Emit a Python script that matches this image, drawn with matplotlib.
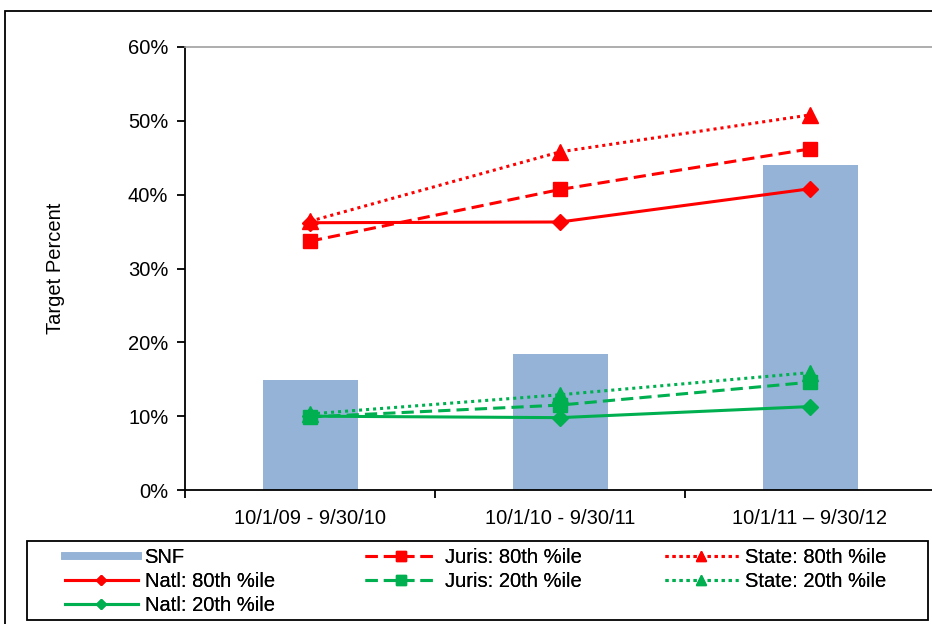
import matplotlib
matplotlib.use("Agg")
import matplotlib.pyplot as plt
from matplotlib.patches import Rectangle
from matplotlib.lines import Line2D
from matplotlib.ticker import PercentFormatter

plt.rcParams['font.family'] = ['Liberation Sans', 'DejaVu Sans']

periods = ["10/1/09 - 9/30/10", "10/1/10 - 9/30/11", "10/1/11 \u2013 9/30/12"]
snf = [14.9, 18.4, 44.0]
natl_80 = [36.2, 36.3, 40.8]
juris_80 = [33.7, 40.7, 46.2]
state_80 = [36.4, 45.8, 50.8]
natl_20 = [10.0, 9.8, 11.3]
juris_20 = [9.9, 11.5, 14.6]
state_20 = [10.3, 12.9, 15.9]

RED = "#FF0000"
GREEN = "#00B050"
BAR = "#95B3D7"
FS = 14.5

W, H = 932, 624
fig = plt.figure(figsize=(W / 100, H / 100), dpi=100)


def px_box(x0, y0, x1, y1):
    """Pixel box (top-left origin) to figure-fraction (x, y, w, h)."""
    return (x0 / W, 1 - y1 / H, (x1 - x0) / W, (y1 - y0) / H)


# outer chart frame
fig.patches.append(Rectangle((5 / W, -0.01), 1.0, 1 - 11 / H + 0.01,
                             transform=fig.transFigure, fill=False,
                             edgecolor="black", linewidth=1.3, zorder=0))

ax = fig.add_axes([185 / W, 134 / H, 750 / W, 443 / H])
x = list(range(len(periods)))

ax.bar(x, snf, width=0.38, color=BAR, zorder=1)

dash = (0, (4, 2))
dot = (0, (1, 1.3))
lw = 2.2
h_n80, = ax.plot(x, natl_80, color=RED, lw=lw, ls="-", marker="D", ms=8, label="Natl: 80th %ile", zorder=3)
h_n20, = ax.plot(x, natl_20, color=GREEN, lw=lw, ls="-", marker="D", ms=8, label="Natl: 20th %ile", zorder=3)
h_j80, = ax.plot(x, juris_80, color=RED, lw=lw, ls=dash, marker="s", ms=10.5, label="Juris: 80th %ile", zorder=3)
h_j20, = ax.plot(x, juris_20, color=GREEN, lw=lw, ls=dash, marker="s", ms=10.5, label="Juris: 20th %ile", zorder=3)
h_s80, = ax.plot(x, state_80, color=RED, lw=lw, ls=dot, marker="^", ms=11, label="State: 80th %ile", zorder=3)
h_s20, = ax.plot(x, state_20, color=GREEN, lw=lw, ls=dot, marker="^", ms=11, label="State: 20th %ile", zorder=3)

ax.set_xlim(-0.5, 2.5)
ax.set_ylim(0, 60)
ax.set_yticks(range(0, 61, 10))
ax.yaxis.set_major_formatter(PercentFormatter(decimals=0))
ax.set_xticks([-0.5, 0.5, 1.5, 2.5])
ax.set_xticklabels([])
ax.set_xticks(x, minor=True)
ax.set_xticklabels(periods, minor=True)
ax.tick_params(axis="x", which="minor", length=0, pad=14, labelsize=FS)
ax.tick_params(axis="x", which="major", direction="out", length=6, width=1.3)
ax.tick_params(axis="y", direction="out", length=6, width=1.3, labelsize=FS, pad=6)

ax.spines["left"].set_linewidth(1.3)
ax.spines["bottom"].set_linewidth(1.3)
ax.spines["top"].set_color("#A0A0A0")
ax.spines["top"].set_linewidth(1.2)
ax.spines["right"].set_visible(False)

ax.set_ylabel("Target Percent", fontsize=FS)
ax.yaxis.set_label_coords(-120 / 750, 0.5)

# legend: framed box holding three columns
lx, ly, lw_, lh = px_box(27, 541, 928, 620)
fig.patches.append(Rectangle((lx, ly), lw_, lh,
                             transform=fig.transFigure, fill=False,
                             edgecolor="black", linewidth=1.3, zorder=5))

snf_handle = Line2D([], [], color=BAR, lw=5.5)
columns = [
    ([snf_handle, h_n80, h_n20], ["SNF", "Natl: 80th %ile", "Natl: 20th %ile"], 65),
    ([h_j80, h_j20], ["Juris: 80th %ile", "Juris: 20th %ile"], 365),
    ([h_s80, h_s20], ["State: 80th %ile", "State: 20th %ile"], 665),
]
for hs, ls_, xpx in columns:
    lg = fig.legend(hs, ls_, loc="upper left",
                    bbox_to_anchor=(xpx / W, 1 - 548 / H),
                    fontsize=FS, frameon=False, handlelength=3.6,
                    handletextpad=0.35, labelspacing=0.25, borderpad=0,
                    borderaxespad=0, markerscale=0.7)
    fig.add_artist(lg)

fig.savefig("out.png", dpi=100)
